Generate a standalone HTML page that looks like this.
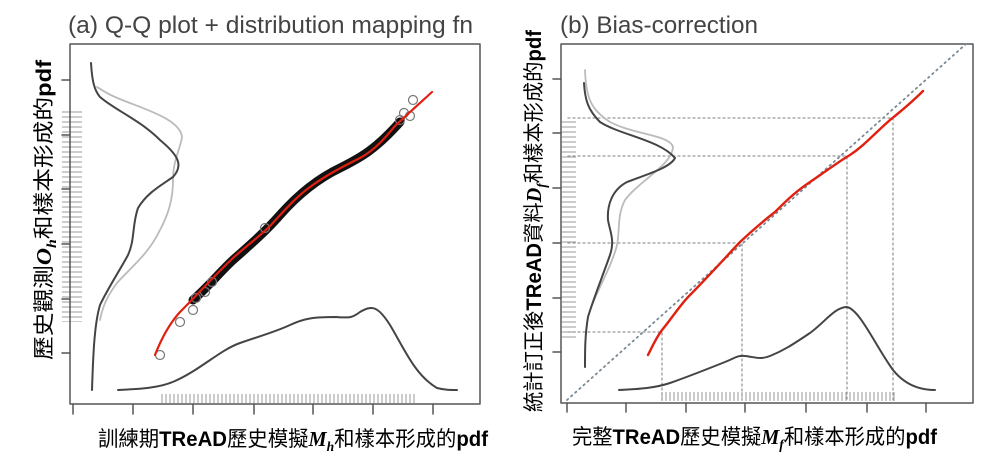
<!DOCTYPE html>
<html><head><meta charset="utf-8"><style>
body{margin:0;background:#fff;width:989px;height:465px;overflow:hidden}
svg{display:block}
text{font-family:"Liberation Sans","Noto Sans CJK TC",sans-serif}
</style></head><body>
<svg width="989" height="465" viewBox="0 0 989 465">
<defs>
<pattern id="rugv" width="20" height="5" patternUnits="userSpaceOnUse"><line x1="0" y1="2" x2="20" y2="2" stroke="#555" stroke-width="1" opacity="0.6"/></pattern>
<pattern id="rugh" width="4" height="10" patternUnits="userSpaceOnUse"><line x1="2" y1="0" x2="2" y2="10" stroke="#555" stroke-width="1" opacity="0.6"/></pattern>
</defs>
<g fill="none" stroke-linecap="round" stroke-linejoin="round">
<!-- Panel a -->
<rect x="70" y="44" width="410" height="360" stroke="#555" stroke-width="1.5"/>
<g stroke="#555" stroke-width="1.5">
<path d="M62 80H70M62 135H70M62 189H70M62 244H70M62 299H70M62 353H70"/>
<path d="M73 404V414M133 404V414M193 404V414M254 404V414M313 404V414M373 404V414M433 404V414"/>
</g>
<rect x="62" y="110" width="20" height="212" fill="url(#rugv)" stroke="none"/>
<rect x="160" y="394" width="255" height="9" fill="url(#rugh)" stroke="none"/>
<path d="M97 87 C102 90 106 93 115 97 C140 108 180 118 182 137 C180 150 173 160 173 180 C173 200 168 215 160 230 C148 255 130 268 117 283 C108 295 103 305 100 320" stroke="#bbb" stroke-width="1.8"/>
<path d="M91 63 C92 80 94 90 100 97 C115 110 140 120 160 140 C178 155 184 165 173 177 C160 186 147 193 138 208 C132 225 135 240 128 255 C120 270 108 288 100 305 C94 325 93 360 92 390" stroke="#444" stroke-width="2"/>
<path d="M118 390 C140 389 160 388 175 381 C200 370 220 350 240 343 C260 336 275 332 290 325 C305 318 315 317 335 317 C350 318 352 318 360 312 C372 305 378 306 390 325 C405 350 415 375 437 388 C445 390 450 390 457 390" stroke="#444" stroke-width="2"/>
<path d="M193 300 C210 285 220 272 233 260 C250 245 265 232 280 215 C295 198 315 180 340 168 C360 158 375 150 400 122" stroke="#111" stroke-width="9"/>
<g stroke="#777" stroke-width="1.2">
<circle cx="160" cy="355" r="4.5"/><circle cx="180" cy="322" r="4.5"/><circle cx="193" cy="310" r="4.5"/><circle cx="196" cy="298" r="4.5"/><circle cx="205" cy="292" r="4.5"/><circle cx="212" cy="282" r="4.5"/><circle cx="265" cy="228" r="4.5"/><circle cx="400" cy="120" r="4.5"/><circle cx="410" cy="116" r="4.5"/><circle cx="413" cy="100" r="4.5"/><circle cx="404" cy="113" r="4.5"/>
</g>
<path d="M155 355 C162 337 170 323 180 312 C195 297 215 275 233 258 C250 243 260 236 270 226 C285 210 295 198 310 187 C325 176 340 168 360 158 C375 150 385 138 395 126 C410 112 420 103 432 92" stroke="#e02010" stroke-width="2.2"/>
<!-- Panel b -->
<rect x="561" y="44" width="412" height="359" stroke="#555" stroke-width="1.5"/>
<g stroke="#555" stroke-width="1.5">
<path d="M553 79H561M553 133H561M553 188H561M553 243H561M553 298H561M553 352H561"/>
<path d="M567 403V412M626 403V412M686 403V412M745 403V412M806 403V412M867 403V412M926 403V412"/>
</g>
<rect x="562" y="118" width="14" height="220" fill="url(#rugv)" stroke="none"/>
<rect x="660" y="392" width="235" height="9" fill="url(#rugh)" stroke="none"/>
<path d="M567 400 L966 44" stroke="#7a8a95" stroke-width="1.8" stroke-dasharray="1.5 4"/>
<g stroke="#999" stroke-width="1.3" stroke-dasharray="2 3">
<path d="M568 118H893V400M568 156H847V400M568 243H742V400M568 332H662V400"/>
</g>
<path d="M585 70 C586 100 592 110 610 122 C635 135 670 135 673 147 C672 165 640 180 625 200 C617 215 620 230 617 245 C612 265 600 285 592 305" stroke="#bbb" stroke-width="1.8"/>
<path d="M584 83 C585 100 588 110 600 122 C620 135 660 140 675 158 C670 168 645 175 627 182 C612 190 607 205 608 220 C610 232 615 240 610 255 C603 275 593 300 588 317 C585 335 585 350 585 367" stroke="#444" stroke-width="2"/>
<path d="M619 390 C640 389 655 388 670 383 C690 376 710 368 725 362 C735 358 738 355 745 356 C755 357 760 360 770 356 C785 350 795 343 810 333 C825 322 835 307 847 307 C860 310 875 345 893 370 C905 385 920 390 935 390" stroke="#444" stroke-width="2"/>
<path d="M648 355 C653 345 656 338 662 330 C672 318 680 305 690 295 C705 280 725 258 740 242 C755 228 762 222 775 212 C785 202 795 192 810 182 C825 172 838 162 850 155 C865 145 875 133 890 120 C905 108 915 99 923 91" stroke="#e02010" stroke-width="2.4"/>
</g>
<g fill="#444" font-size="24">
<text x="68" y="33" textLength="405" lengthAdjust="spacingAndGlyphs">(a) Q-Q plot + distribution mapping fn</text>
<text x="560" y="33" textLength="198" lengthAdjust="spacingAndGlyphs">(b) Bias-correction</text>
</g>
<g fill="#000" font-size="21">
<text x="98" y="446" textLength="390" lengthAdjust="spacingAndGlyphs">訓練期<tspan font-weight="bold">TReAD</tspan>歷史模擬<tspan font-family="Liberation Serif" font-style="italic" font-weight="bold">M</tspan><tspan font-family="Liberation Serif" font-style="italic" font-weight="bold" font-size="14" dy="5">h</tspan><tspan dy="-5">和樣本形成的</tspan><tspan font-weight="bold">pdf</tspan></text>
<text x="572" y="444" textLength="365" lengthAdjust="spacingAndGlyphs">完整<tspan font-weight="bold">TReAD</tspan>歷史模擬<tspan font-family="Liberation Serif" font-style="italic" font-weight="bold">M</tspan><tspan font-family="Liberation Serif" font-style="italic" font-weight="bold" font-size="14" dy="5">f</tspan><tspan dy="-5">和樣本形成的</tspan><tspan font-weight="bold">pdf</tspan></text>
<text transform="translate(51,360) rotate(-90)" textLength="300" lengthAdjust="spacingAndGlyphs">歷史觀測<tspan font-family="Liberation Serif" font-style="italic" font-weight="bold">O</tspan><tspan font-family="Liberation Serif" font-style="italic" font-weight="bold" font-size="14" dy="5">h</tspan><tspan dy="-5">和樣本形成的</tspan><tspan font-weight="bold">pdf</tspan></text>
<text transform="translate(541,412) rotate(-90)" textLength="382" lengthAdjust="spacingAndGlyphs">統計訂正後<tspan font-weight="bold">TReAD</tspan>資料<tspan font-family="Liberation Serif" font-style="italic" font-weight="bold">D</tspan><tspan font-family="Liberation Serif" font-style="italic" font-weight="bold" font-size="14" dy="5">f</tspan><tspan dy="-5">和樣本形成的</tspan><tspan font-weight="bold">pdf</tspan></text>
</g>
</svg>
</body></html>
